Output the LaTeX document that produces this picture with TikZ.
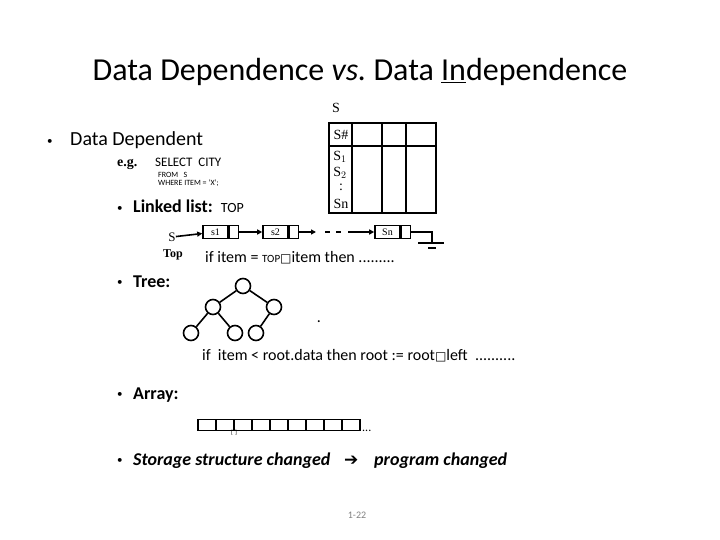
\documentclass[tikz,border=0pt]{standalone}
\usepackage{fontspec}
\setmainfont{Carlito}
\newfontfamily\serifface{Liberation Serif}
\newfontfamily\symface{DejaVu Sans}
\usepackage{tikz}
\usetikzlibrary{arrows.meta, positioning}
\newcommand{\smallbul}{\raisebox{1.5pt}{\fontsize{11}{11}\selectfont\textbullet}}

\begin{document}
\begin{tikzpicture}[x=1pt, y=-1pt,
    txt/.style={anchor=base west, inner sep=0pt},
    tabtxt/.style={inner sep=0pt, font=\serifface\fontsize{14}{14}\selectfont},
    datacell/.style={draw, line width=1.6pt, minimum width=25pt, minimum height=13pt, inner sep=0pt, font=\serifface\fontsize{10}{10}\selectfont},
    ptrcell/.style={draw, line width=1.6pt, minimum width=9pt, minimum height=13pt, inner sep=0pt},
    link/.style={line width=1.6pt, -{Triangle[length=5pt, width=5pt]}},
    treenode/.style={circle, draw, line width=1.6pt, minimum size=15pt, inner sep=0pt},
    arrcell/.style={draw, line width=1.8pt, minimum width=18pt, minimum height=11pt, inner sep=0pt}
]
\useasboundingbox (0,0) rectangle (720,540);

% title
\node (title) [anchor=base, inner sep=0pt, font=\fontsize{32}{32}\selectfont] at (360,81) {Data Dependence {\itshape vs.}\ Data \underline{In}dependence};

% relation S as a table
\node (rel) [tabtxt] at (336,108) {S};
\draw[line width=2.4pt] (329,123) rectangle (436,213);
\draw[line width=1.8pt] (352,123) -- (352,213) (382,123) -- (382,213) (406,123) -- (406,213)
    (329,146) -- (436,146);
\node (key) [tabtxt] at (341,135) {S\#};
\node (row1) [tabtxt] at (340,157) {S$_1$};
\node (row2) [tabtxt] at (340,173) {S$_2$};
\node (rowdots) [tabtxt] at (341,187) {:};
\node (rown) [tabtxt] at (341,204) {Sn};

% data dependent
\node (dep) [txt, font=\fontsize{20}{20}\selectfont] at (47,146) {\makebox[23pt][l]{\smallbul}Data Dependent};
\node (eg) [txt, font=\serifface\bfseries\fontsize{14}{14}\selectfont] at (117,167) {e.g.};
\node (sel) [txt, font=\fontsize{13}{13}\selectfont] at (155,167) {SELECT\ \ CITY};
\node (from) [txt, font=\fontsize{8}{8}\selectfont] at (158,178) {FROM\ \ \ S};
\node (where) [txt, font=\fontsize{8}{8}\selectfont] at (158,186) {WHERE\ ITEM = 'X';};

% linked list
\node (ll) [txt, font=\fontsize{18}{18}\selectfont] at (117,213) {\makebox[16pt][l]{\smallbul}\textbf{Linked list:}\ \ {\fontsize{14}{14}\selectfont TOP}};
\node (head) [inner sep=0pt, font=\serifface\fontsize{13}{13}\selectfont] at (172,237) {S};
\node (top) [txt, font=\serifface\bfseries\fontsize{12}{12}\selectfont] at (163,257) {Top};
\node (d1) [datacell] at (215.5,232) {s1};
\node (p1) [ptrcell, right=0pt of d1] {};
\node (d2) [datacell] at (275.5,232) {s2};
\node (p2) [ptrcell, right=0pt of d2] {};
\node (dn) [datacell] at (387.5,232) {Sn};
\node (pn) [ptrcell, right=0pt of dn] {};
\coordinate (gap1) at (316,232);
\coordinate (gap2) at (348,232);
\coordinate (gnd) at (432,232);
\draw[link] (head) -- (d1);
\draw[link] (p1) -- (d2);
\draw[link] (p2) -- (gap1);
\draw[line width=1.6pt, dash pattern=on 5pt off 6pt] ([xshift=9pt]gap1) -- ([xshift=-4pt]gap2);
\draw[link] (gap2) -- (dn);
\draw[line width=1.6pt] (pn) -- (gnd) -- ++(0,11);
\draw[line width=1.6pt] ([xshift=-14pt, yshift=-11pt]gnd) -- ++(26,0)
    ([xshift=-4pt, yshift=-16pt]gnd) -- ++(8,0);
\node (cond1) [txt, font=\fontsize{16}{16}\selectfont] at (205,262) {if item = {\fontsize{11}{11}\selectfont TOP}{\symface\fontsize{12}{12}\selectfont □}item then .........};

% tree
\node (tree) [txt, font=\fontsize{18}{18}\selectfont] at (117,287) {\makebox[16pt][l]{\smallbul}\textbf{Tree:}};
\node (root) [treenode] at (243,286) {};
\node (lc) [treenode] at (213,307) {};
\node (rc) [treenode] at (274,307) {};
\node (leaf1) [treenode] at (191,333) {};
\node (leaf2) [treenode] at (235,333) {};
\node (leaf3) [treenode] at (256,333) {};
\draw[line width=1.6pt] (root) -- (lc) (root) -- (rc) (lc) -- (leaf1) (lc) -- (leaf2) (rc) -- (leaf3);
\node (dot) [inner sep=0pt, font=\fontsize{16}{16}\selectfont] at (319,322) {.};
\node (cond2) [txt, font=\fontsize{16}{16}\selectfont] at (202,360) {if\ \ item < root.data then root := root{\symface\fontsize{12}{12}\selectfont □}left \ ..........};

% array
\node (arr) [txt, font=\fontsize{18}{18}\selectfont] at (117,399) {\makebox[16pt][l]{\smallbul}\textbf{Array:}};
\foreach \i in {0,...,8}
    \node (a\i) [arrcell] at ({207+18*\i},425) {};
\node (more) [txt, font=\fontsize{12}{12}\selectfont] at (362,431) {...};
\node (idx) [inner sep=0pt, font=\fontsize{6}{6}\selectfont] at (234,433) {[\,\,]};

% consequence
\node (chg) [txt, font=\fontsize{18}{18}\selectfont] at (117,465) {\makebox[16pt][l]{\smallbul}\textbf{\textit{Storage structure changed}}};
\node (arrow) [txt, font=\symface\fontsize{17}{17}\selectfont] at (344,465) {➔};
\node (prog) [txt, font=\bfseries\itshape\fontsize{18}{18}\selectfont] at (374,465) {program changed};

% page number
\node (page) [inner sep=0pt, text=gray, font=\fontsize{10}{10}\selectfont] at (357,515) {1-22};
\end{tikzpicture}
\end{document}
